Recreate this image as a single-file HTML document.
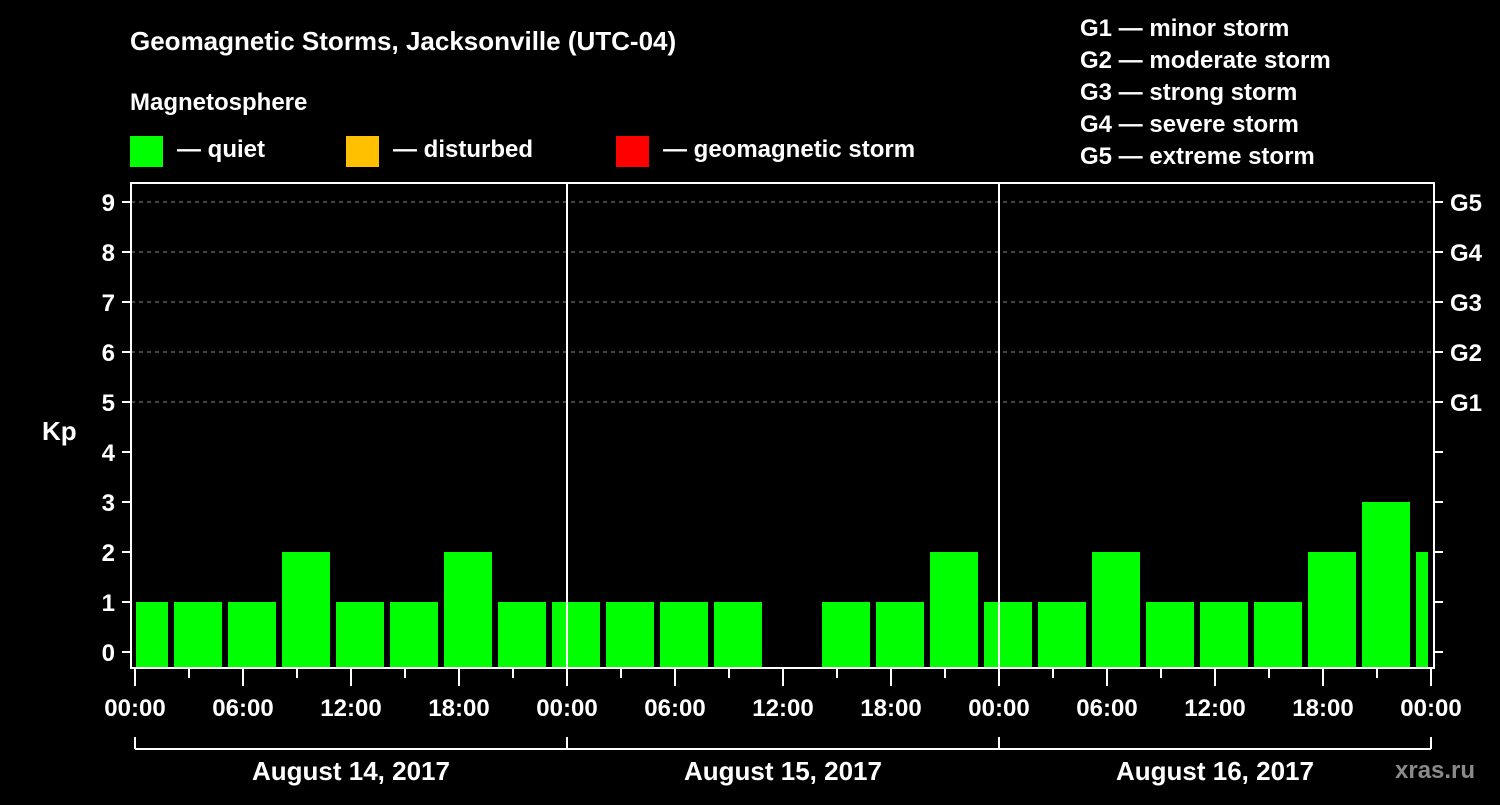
<!DOCTYPE html>
<html><head><meta charset="utf-8"><style>
body{margin:0;background:#000;width:1500px;height:800px;overflow:hidden}
svg text{font-family:"Liberation Sans",Arial,sans-serif;font-weight:bold;fill:#fff}
</style></head><body>
<svg id="c" width="1500" height="800">
<text x="130" y="50" font-size="26">Geomagnetic Storms, Jacksonville (UTC-04)</text>
<text x="130" y="110" font-size="24">Magnetosphere</text>
<g><rect x="130" y="136" width="33" height="31" fill="#00ff00"/><text x="177" y="157" font-size="24">— quiet</text></g>
<g><rect x="346" y="136" width="33" height="31" fill="#ffc000"/><text x="393" y="157" font-size="24">— disturbed</text></g>
<g><rect x="616" y="136" width="33" height="31" fill="#ff0000"/><text x="663" y="157" font-size="24">— geomagnetic storm</text></g>
<g font-size="24">
<text x="1080" y="36">G1 — minor storm</text><text x="1080" y="68">G2 — moderate storm</text><text x="1080" y="100">G3 — strong storm</text><text x="1080" y="132">G4 — severe storm</text><text x="1080" y="164">G5 — extreme storm</text></g>
<text x="42" y="440" font-size="26">Kp</text>
<text x="1395" y="778" font-size="24" fill="#888" style="fill:#8a8a8a">xras.ru</text>
<g id="plot"></g>
</svg>
<script>
const kpValues=[1,1,1,2,1,1,2,1, 1,1,1,1,null,1,1,2, 1,1,2,1,1,1,2,3,2];
const yTicks=[0,1,2,3,4,5,6,7,8,9];
const gLabels=["G1","G2","G3","G4","G5"];
const gLevels=[5,6,7,8,9];
const xTickLabels=["00:00","06:00","12:00","18:00","00:00","06:00","12:00","18:00","00:00","06:00","12:00","18:00","00:00"];
const dayLabels=["August 14, 2017","August 15, 2017","August 16, 2017"];
const NS="http://www.w3.org/2000/svg",g=document.getElementById('plot');
const L=131,R=1434,T=183,B=668;
const y=v=>652-v*50, x=h=>135+h*18;
function mk(t,a){const e=document.createElementNS(NS,t);for(const k in a)e.setAttribute(k,a[k]);g.appendChild(e);return e;}
yTicks.forEach(v=>{
 if(v>0&&gLevels.includes(v)){const l=mk('line',{x1:L,x2:R,y1:y(v),y2:y(v),stroke:'#888','stroke-dasharray':'4,4'});}
 const t=mk('line',{x1:122,x2:L,y1:y(v),y2:y(v),stroke:'#fff','stroke-width':2});
 const r=mk('line',{x1:R,x2:1443,y1:y(v),y2:y(v),stroke:'#fff','stroke-width':2});
 const tx=mk('text',{x:115,y:y(v)+9,'font-size':24,'text-anchor':'end'});tx.textContent=v;
});
gLevels.forEach((v,i)=>{const tx=mk('text',{x:1450,y:y(v)+9,'font-size':24});tx.textContent=gLabels[i];});
kpValues.forEach((v,i)=>{
 if(v===null)return;
 const c=x(0.5+3*i);let x0=Math.max(c-24,136),x1=Math.min(c+24,1428);
 const col=v>=5?'#ff0000':(v>=4?'#ffc000':'#00ff00');
 const b=mk('rect',{x:x0,y:y(v),width:x1-x0,height:B-y(v),fill:col});
 
});
[1,2].forEach(d=>{const l=mk('line',{x1:x(24*d),x2:x(24*d),y1:T,y2:B,stroke:'#fff','stroke-width':2});});
const f=mk('rect',{x:L,y:T,width:R-L,height:B-T,fill:'none',stroke:'#fff','stroke-width':2});
for(let h=0;h<=72;h+=3){const m=h%6===0;const t=mk('line',{x1:x(h),x2:x(h),y1:B,y2:m?686:678,stroke:'#fff','stroke-width':2});}
xTickLabels.forEach((s,i)=>{const tx=mk('text',{x:x(6*i),y:716,'font-size':24,'text-anchor':'middle'});tx.textContent=s;});
const br=mk('line',{x1:x(0),x2:x(72),y1:749,y2:749,stroke:'#fff','stroke-width':2});
[0,1,2,3].forEach(d=>{const l=mk('line',{x1:x(24*d),x2:x(24*d),y1:737,y2:749,stroke:'#fff','stroke-width':2});});
dayLabels.forEach((s,i)=>{const tx=mk('text',{x:x(24*i+12),y:780,'font-size':26,'text-anchor':'middle'});tx.textContent=s;});
</script>
</body></html>
